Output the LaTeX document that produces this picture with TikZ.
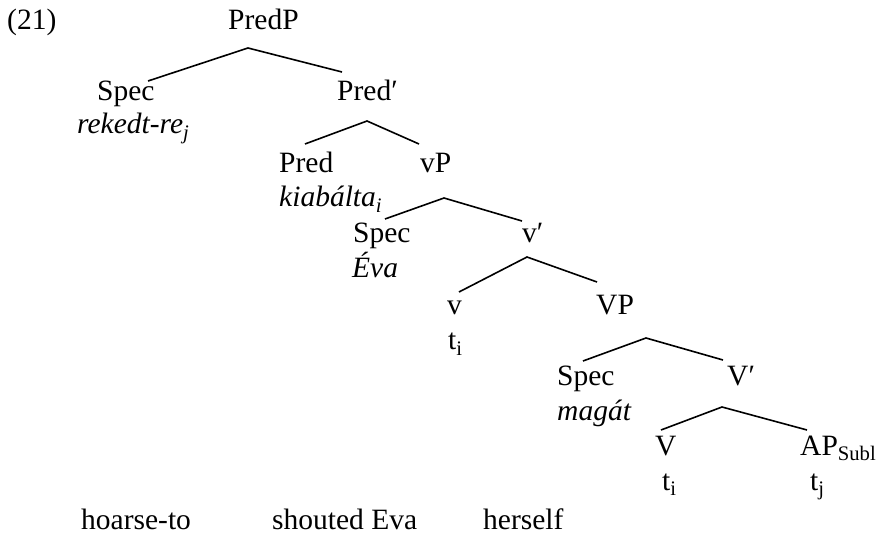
\documentclass[tikz,border=0pt]{standalone}
\usepackage{fontspec}
\setmainfont{Liberation Serif}
\begin{document}
\begin{tikzpicture}[x=1pt,y=-1pt,
  lab/.style={anchor=base west,inner sep=0pt,font=\fontsize{29.5}{35}\selectfont},
  branch/.style={line width=1.6pt,line join=miter}]
\useasboundingbox (0,0) rectangle (878,534);
% labels
\node[lab] (n21) at (7,30) {(21)};
\node[lab] (predp) at (228,30) {PredP};
\node[lab] (spec1) at (97,101) {Spec};
\node[lab] (predbar) at (337,101) {Pred\char"2032};
\node[lab] (rek) at (77,134) {\textit{rekedt-re}\textsubscript{\textit{j}}};
\node[lab] (pred) at (279,173) {Pred};
\node[lab] (vp) at (420,173) {vP};
\node[lab] (kiab) at (279,207) {\textit{kiabálta}\textsubscript{\textit{i}}};
\node[lab] (spec2) at (353,243) {Spec};
\node[lab] (vbar) at (522,243) {v\char"2032};
\node[lab] (eva) at (352,278) {\textit{Éva}};
\node[lab] (lv) at (447,315) {v};
\node[lab] (VP) at (596,315) {VP};
\node[lab] (ti1) at (448,350) {t\textsubscript{i}};
\node[lab] (spec3) at (557,385) {Spec};
\node[lab] (Vbar) at (727,385) {V\char"2032};
\node[lab] (magat) at (557,420) {\textit{magát}};
\node[lab] (V) at (655,455) {V};
\node[lab] (AP) at (800,455) {AP\textsubscript{Subl}};
\node[lab] (ti2) at (662,490) {t\textsubscript{i}};
\node[lab] (tj) at (810,490) {t\textsubscript{j}};
\node[lab] (g1) at (81,529) {hoarse-to};
\node[lab] (g2) at (272,529) {shouted Eva};
\node[lab] (g3) at (483,529) {herself};
% branch points
\coordinate (a1) at (248,48);  \coordinate (l1) at (148,81);  \coordinate (r1) at (342,72);
\coordinate (a2) at (367,121); \coordinate (l2) at (305,144); \coordinate (r2) at (419,144);
\coordinate (a3) at (444,198); \coordinate (l3) at (385,219); \coordinate (r3) at (522,221);
\coordinate (a4) at (527,257); \coordinate (l4) at (459,292); \coordinate (r4) at (597,282);
\coordinate (a5) at (646,338); \coordinate (l5) at (583,361); \coordinate (r5) at (723,360);
\coordinate (a6) at (722,407); \coordinate (l6) at (661,430); \coordinate (r6) at (807,430);
\draw[branch] (l1) -- (a1) -- (r1);
\draw[branch] (l2) -- (a2) -- (r2);
\draw[branch] (l3) -- (a3) -- (r3);
\draw[branch] (l4) -- (a4) -- (r4);
\draw[branch] (l5) -- (a5) -- (r5);
\draw[branch] (l6) -- (a6) -- (r6);
\end{tikzpicture}
\end{document}
